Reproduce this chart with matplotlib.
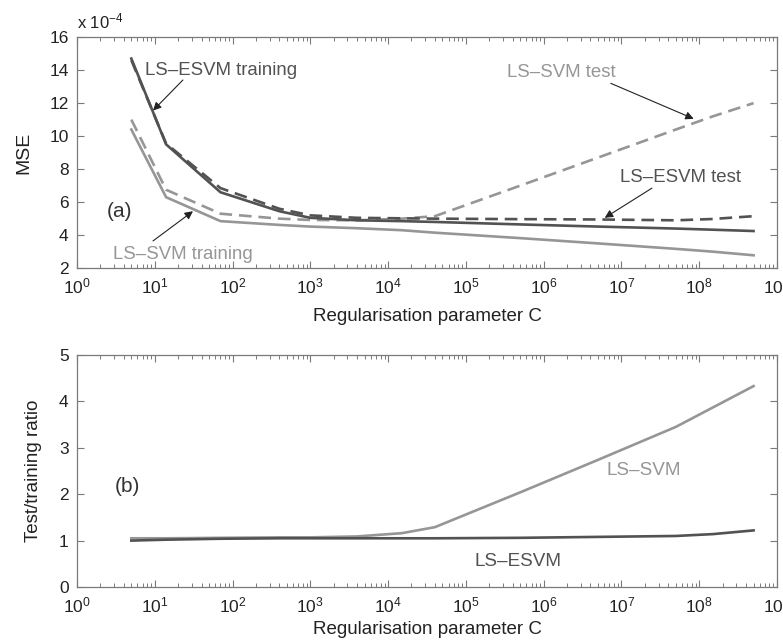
import numpy as np
import matplotlib.pyplot as plt
from matplotlib.ticker import LogLocator, FixedLocator, NullFormatter

plt.rcParams['font.family'] = ['Liberation Sans', 'DejaVu Sans']
plt.rcParams['mathtext.fontset'] = 'custom'
plt.rcParams['mathtext.rm'] = 'Liberation Sans'
plt.rcParams['mathtext.default'] = 'regular'

# regularisation parameter values
C = [5, 14, 70, 400, 1e3, 4e3, 1.5e4, 4e4, 5e5, 5e6, 5e7, 1.5e8, 5e8]

# MSE (x 1e-4)
esvm_train = [14.7, 9.5, 6.6, 5.45, 5.05, 4.9, 4.85, 4.8, 4.65, 4.52, 4.4, 4.33, 4.25]
esvm_test = [14.6, 9.55, 6.85, 5.6, 5.2, 5.05, 5.02, 5.0, 4.97, 4.95, 4.9, 4.98, 5.15]
svm_train = [10.4, 6.3, 4.85, 4.62, 4.52, 4.42, 4.3, 4.15, 3.82, 3.5, 3.17, 3.0, 2.78]
svm_test = [11.0, 6.75, 5.3, 5.0, 4.92, 4.9, 5.0, 5.15, 7.0, 8.7, 10.4, 11.2, 12.0]

# test/training ratio
svm_ratio = [1.05, 1.05, 1.06, 1.07, 1.07, 1.09, 1.16, 1.29, 2.04, 2.74, 3.45, 3.87, 4.33]
esvm_ratio = [1.0, 1.02, 1.04, 1.05, 1.05, 1.05, 1.05, 1.05, 1.06, 1.08, 1.1, 1.14, 1.22]

dark = '#525252'
light = '#969696'
frame = '#7a7a7a'
lw = 1.9
dash = (4.8, 2.6)

fig = plt.figure(figsize=(7.83, 6.4), dpi=100)
ax1 = fig.add_axes([0.0983, 0.581, 0.894, 0.361])
ax2 = fig.add_axes([0.0983, 0.0828, 0.894, 0.3625])


def style(ax, pad):
    ax.set_xscale('log')
    ax.set_xlim(1, 1e9)
    ax.xaxis.set_major_locator(LogLocator(base=10, numticks=12))
    ax.xaxis.set_minor_locator(LogLocator(base=10, subs=np.arange(2, 10), numticks=12))
    ax.xaxis.set_minor_formatter(NullFormatter())
    ax.tick_params(which='both', direction='in', top=True, right=True,
                   colors=frame, labelcolor='#222222', labelsize=12.5)
    ax.tick_params(which='major', length=5, width=0.8, pad=6)
    ax.tick_params(which='minor', length=3, width=0.7)
    for s in ax.spines.values():
        s.set_color(frame)
        s.set_linewidth(0.9)
    ax.set_xlabel('Regularisation parameter C', fontsize=13.5, color='#222222', labelpad=pad)


# (a) MSE curves
style(ax1, 8)
ax1.plot(C, svm_train, color=light, lw=lw)
ax1.plot(C, svm_test, color=light, lw=lw, dashes=dash)
ax1.plot(C, esvm_test, color=dark, lw=lw, dashes=dash)
ax1.plot(C, esvm_train, color=dark, lw=lw)
ax1.set_ylim(2, 16)
ax1.yaxis.set_major_locator(FixedLocator([2, 4, 6, 8, 10, 12, 14, 16]))
ax1.set_ylabel('MSE', fontsize=14, color='#222222', labelpad=12)
ax1.text(0, 1.025, r'x $10^{-4}$', transform=ax1.transAxes, fontsize=12,
         color='#222222', ha='left', va='bottom')

arrow = dict(arrowstyle='-|>', color='#222222', lw=0.8, mutation_scale=12,
             shrinkA=0, shrinkB=0)
fs = 13.4

ax1.text(7.5, 14.0, 'LS\u2013ESVM training', color=dark, fontsize=fs, va='center')
ax1.annotate('', xy=(9.5, 11.55), xytext=(23, 13.4), arrowprops=arrow)

ax1.text(2.9, 2.8, 'LS\u2013SVM training', color=light, fontsize=fs, va='center')
ax1.annotate('', xy=(31, 5.45), xytext=(9.5, 3.65), arrowprops=arrow)

ax1.text(3.4e5, 13.88, 'LS\u2013SVM test', color=light, fontsize=fs, va='center')
ax1.annotate('', xy=(8.5e7, 11.05), xytext=(7.3e6, 13.2), arrowprops=arrow)

ax1.text(9.6e6, 7.52, 'LS\u2013ESVM test', color=dark, fontsize=fs, va='center')
ax1.annotate('', xy=(6.1e6, 5.05), xytext=(2.47e7, 6.85), arrowprops=arrow)

ax1.text(2.43, 5.45, '(a)', color='#333333', fontsize=15, va='center')

# (b) ratio curves
style(ax2, 4)
ax2.plot(C, svm_ratio, color=light, lw=lw)
ax2.plot(C, esvm_ratio, color=dark, lw=lw)
ax2.set_ylim(0, 5)
ax2.yaxis.set_major_locator(FixedLocator([0, 1, 2, 3, 4, 5]))
ax2.set_ylabel('Test/training ratio', fontsize=13.5, color='#222222', labelpad=12)

ax2.text(3.1, 2.16, '(b)', color='#333333', fontsize=15, va='center')
ax2.text(6.5e6, 2.52, 'LS\u2013SVM', color=light, fontsize=13.6, va='center')
ax2.text(1.3e5, 0.54, 'LS\u2013ESVM', color=dark, fontsize=13.6, va='center')

fig.savefig('out.png', dpi=100)
